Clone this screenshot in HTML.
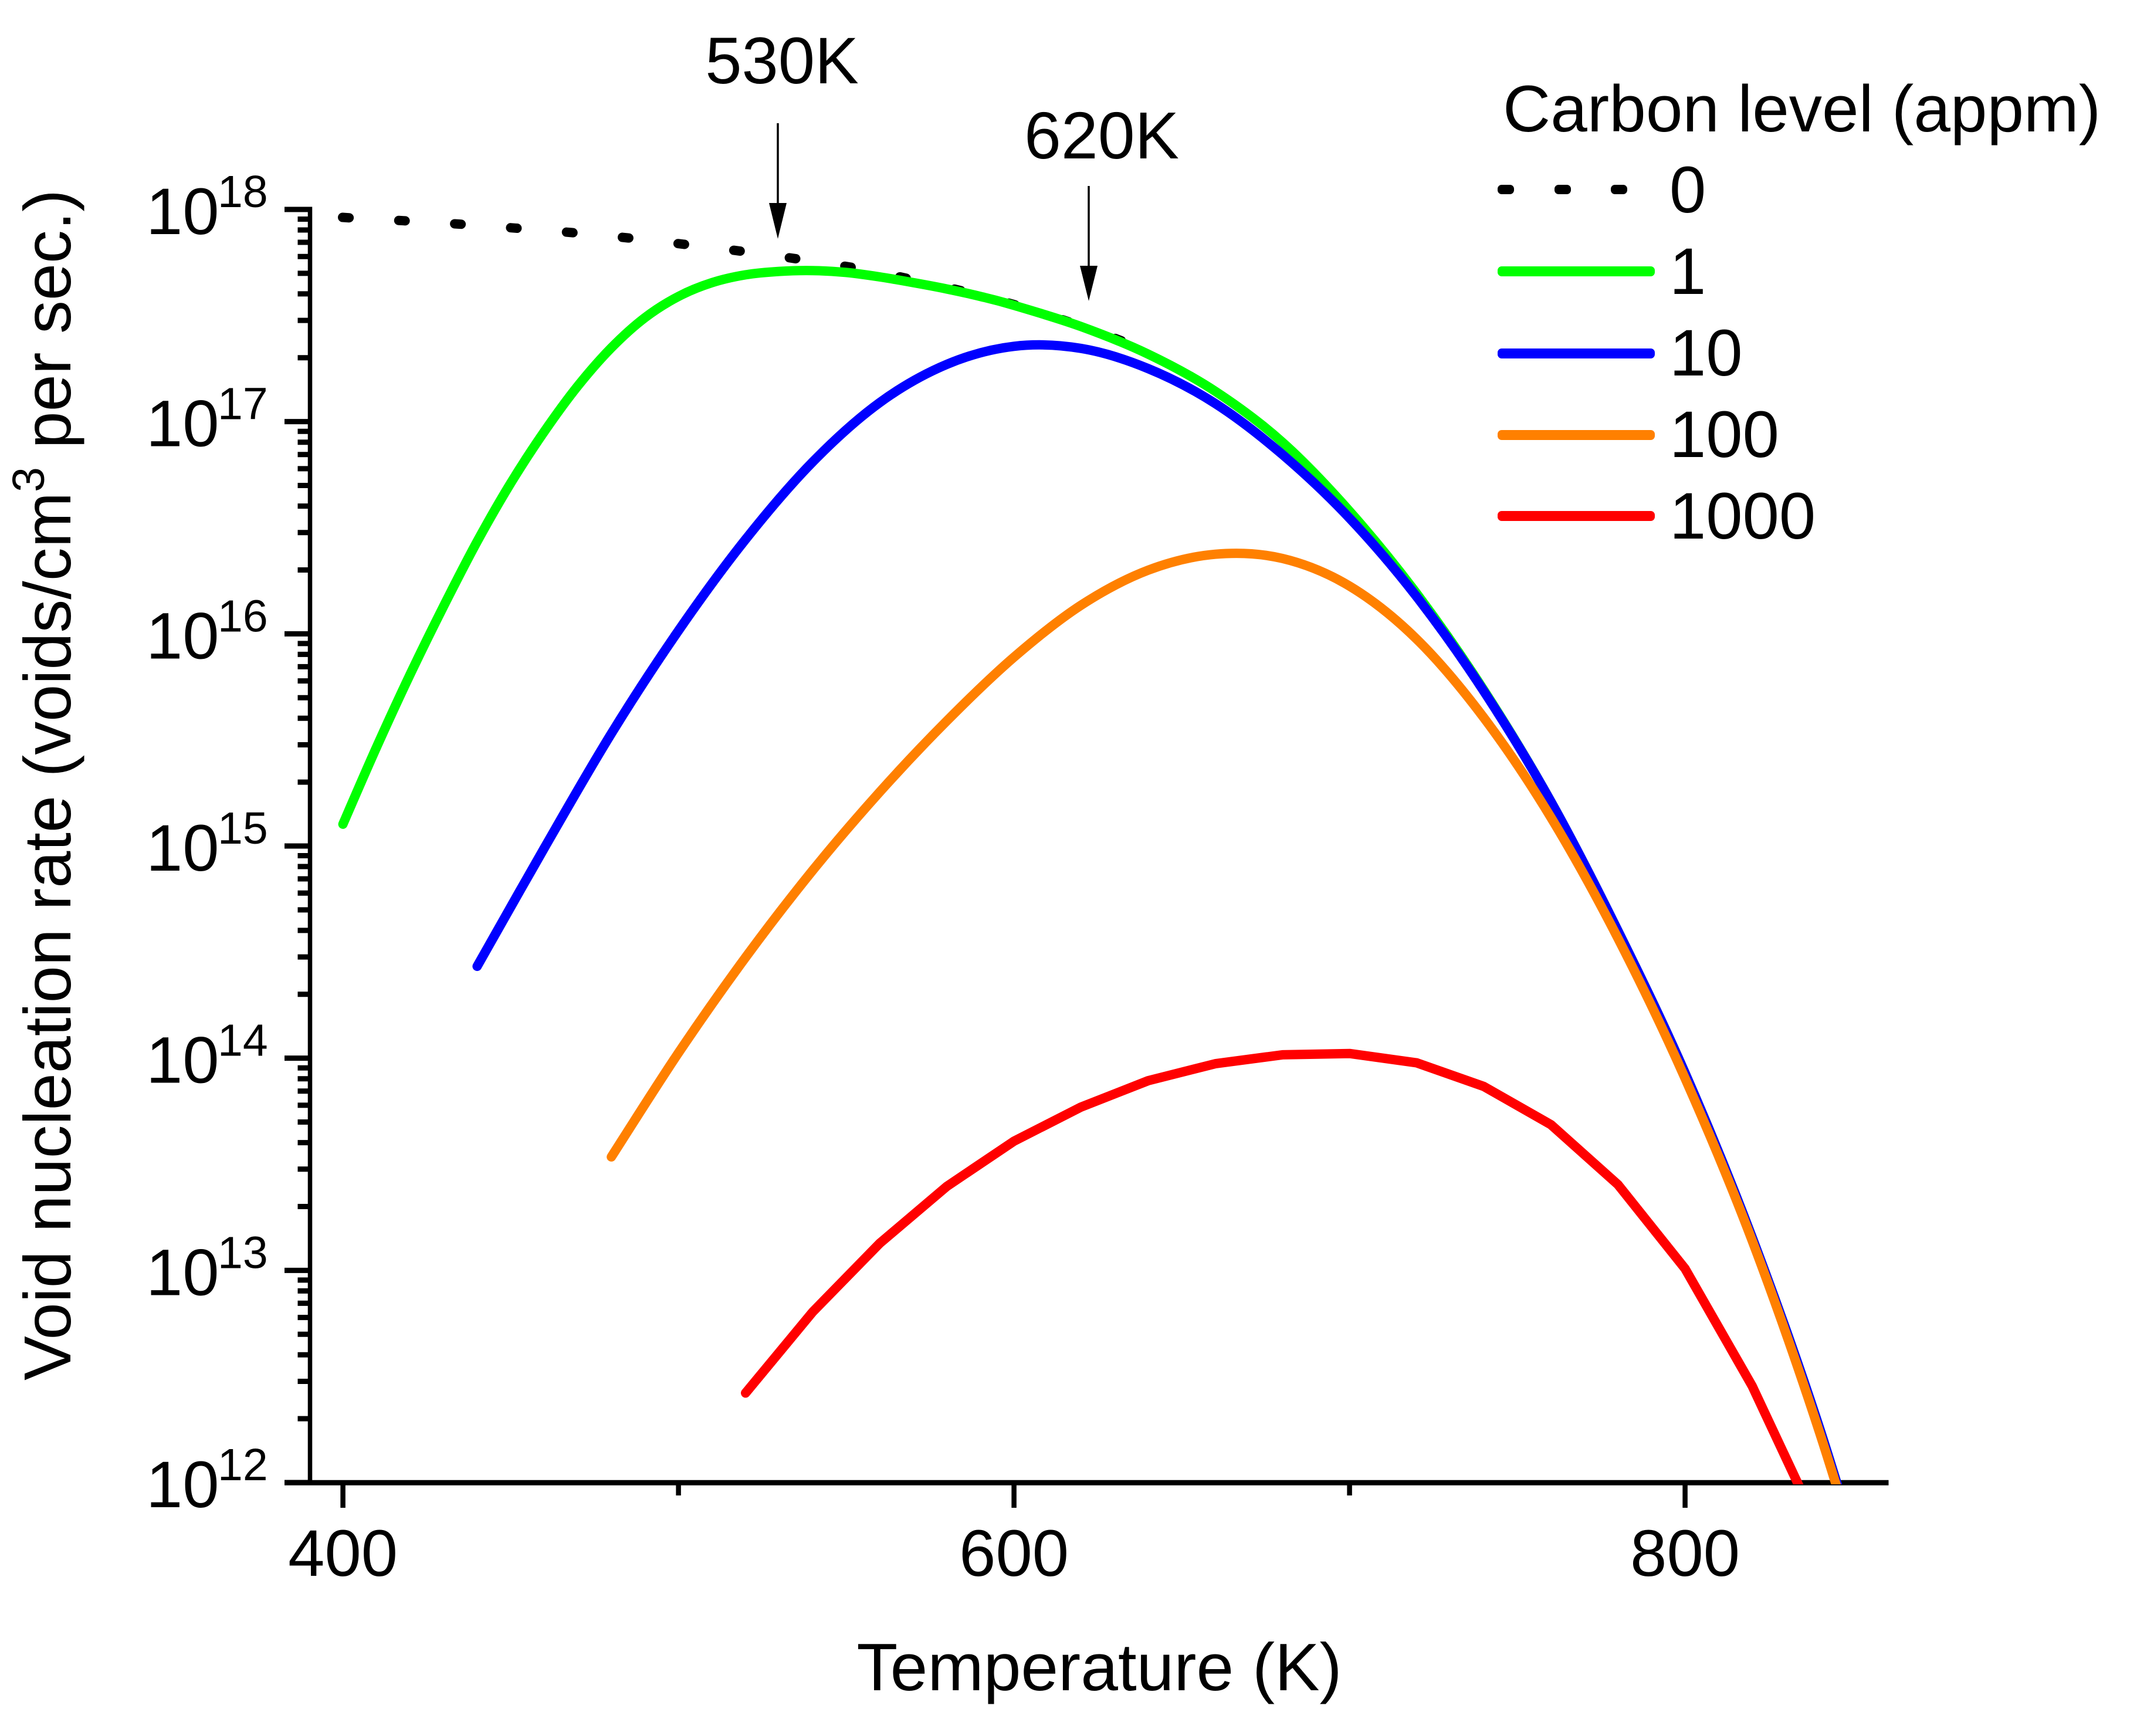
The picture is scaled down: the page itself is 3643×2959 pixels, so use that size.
<!DOCTYPE html>
<html lang="en">
<head>
<meta charset="utf-8">
<title>Void nucleation rate vs temperature</title>
<style>
html,body{margin:0;padding:0;background:#fff;}
svg{display:block;}
text{font-family:"Liberation Sans",Arial,sans-serif;fill:#000;}
</style>
</head>
<body>
<svg id="chart" xmlns="http://www.w3.org/2000/svg" width="3643" height="2959" viewBox="0 0 3643 2959">
  <rect x="0" y="0" width="3643" height="2959" fill="#fff"/>
  <defs><clipPath id="plot-clip"><rect x="0" y="0" width="3643" height="2530"/></clipPath></defs>

  <g id="axes"></g>
  <g id="series" clip-path="url(#plot-clip)"></g>

  <text x="1874" y="2881" font-size="114.5" text-anchor="middle">Temperature (K)</text>
  <text transform="translate(120,2353) rotate(-90)" x="0" y="0" font-size="113.5">Void nucleation rate (voids/cm<tspan font-size="77" dy="-45">3</tspan><tspan dy="45"> per sec.)</tspan></text>

  <text x="1333" y="142" font-size="112" text-anchor="middle">530K</text>
  <line x1="1326" y1="210" x2="1326" y2="350" stroke="#000" stroke-width="3.5"/>
  <polygon points="1311,346 1341,346 1326,407" fill="#000"/>
  <text x="1878" y="270" font-size="113" text-anchor="middle">620K</text>
  <line x1="1856" y1="317" x2="1856" y2="457" stroke="#000" stroke-width="3.5"/>
  <polygon points="1841,453 1871,453 1856,513" fill="#000"/>

  <g>
    <text x="2562" y="224" font-size="112.5">Carbon level (appm)</text>
    <g>
      <rect x="2553" y="315" width="28" height="16" rx="7" fill="#000"/>
      <rect x="2650" y="315" width="28" height="16" rx="7" fill="#000"/>
      <rect x="2746" y="315" width="28" height="16" rx="7" fill="#000"/>
      <text x="2846" y="362" font-size="112">0</text>
    </g>
    <g>
      <rect x="2553" y="454" width="268" height="17" rx="7" fill="#00ff00"/>
      <text x="2846" y="501" font-size="112">1</text>
    </g>
    <g>
      <rect x="2553" y="594" width="268" height="17" rx="7" fill="#0000ff"/>
      <text x="2846" y="640" font-size="112">10</text>
    </g>
    <g>
      <rect x="2553" y="733" width="268" height="17" rx="7" fill="#ff8000"/>
      <text x="2846" y="779" font-size="112">100</text>
    </g>
    <g>
      <rect x="2553" y="871" width="268" height="17" rx="7" fill="#ff0000"/>
      <text x="2846" y="918" font-size="112">1000</text>
    </g>
  </g>
</svg>
<script>
// Chart data. Rates are stored as log10(voids/cm3 per sec).
var xMajorTicks = [400, 600, 800];
var xMinorTicks = [500, 700];
var yDecades = [18, 17, 16, 15, 14, 13, 12];
var yMinorMultipliers = [2, 3, 4, 5, 6, 7, 8, 9];

var temps0 = [400, 401.5, 418, 434.7, 451.4, 468.1, 484.9, 501.5, 518.3, 534.9, 551.6, 567.9, 584, 599.9, 616, 631.2, 640];
var logRate0 = [17.963, 17.961, 17.947, 17.931, 17.912, 17.891, 17.866, 17.836, 17.804, 17.768, 17.727, 17.676, 17.618, 17.552, 17.472, 17.386, 17.325];

var temps1 = [400, 410, 420, 430, 440, 450, 460, 470, 480, 490, 500, 510, 520, 530, 540, 550, 560, 570, 580, 590, 600, 620, 640, 660, 680, 700, 720, 740, 760, 780, 800, 820, 840, 860];
var logRate1 = [15.103, 15.465, 15.808, 16.13, 16.435, 16.71, 16.953, 17.168, 17.348, 17.49, 17.59, 17.655, 17.692, 17.708, 17.712, 17.703, 17.682, 17.655, 17.625, 17.59, 17.548, 17.448, 17.318, 17.143, 16.903, 16.578, 16.19, 15.735, 15.21, 14.60, 13.93, 13.155, 12.26, 11.22];

var temps10 = [440, 460, 480, 500, 520, 540, 560, 580, 600, 620, 640, 660, 680, 700, 720, 740, 760, 780, 800, 820, 840, 860];
var logRate10 = [14.433, 14.99, 15.53, 16.015, 16.445, 16.81, 17.09, 17.27, 17.355, 17.345, 17.25, 17.085, 16.845, 16.545, 16.175, 15.73, 15.21, 14.60, 13.93, 13.155, 12.26, 11.22];

var temps100 = [480, 500, 520, 540, 560, 580, 600, 620, 640, 660, 680, 700, 720, 740, 760, 780, 800, 820, 840, 860];
var logRate100 = [13.535, 14.025, 14.475, 14.885, 15.255, 15.59, 15.89, 16.135, 16.30, 16.375, 16.355, 16.225, 15.975, 15.605, 15.135, 14.565, 13.905, 13.14, 12.24, 11.21];

var temps1000 = [520, 540, 560, 580, 600, 620, 640, 660, 680, 700, 720, 740, 760, 780, 800, 820, 840];
var logRate1000 = [12.422, 12.804, 13.128, 13.396, 13.609, 13.770, 13.894, 13.974, 14.016, 14.022, 13.978, 13.867, 13.687, 13.404, 13.008, 12.455, 11.780];

var NS = 'http://www.w3.org/2000/svg';
function xScale(t) { return 584.6 + (t - 400) * 5.72; }
function yScale(e) { return 357 + (18 - e) * 361.67; }

var axes = document.getElementById('axes');
var seriesGroup = document.getElementById('series');

function line(parent, x1, y1, x2, y2, w, name) {
  var el = document.createElementNS(NS, 'line');
  el.setAttribute('x1', x1);
  el.setAttribute('y1', y1);
  el.setAttribute('x2', x2);
  el.setAttribute('y2', y2);
  el.setAttribute('stroke', '#000');
  el.setAttribute('stroke-width', w);
  
  
  parent.appendChild(el);
  return el;
}
function label(parent, x, y, size, anchor, str, name) {
  var el = document.createElementNS(NS, 'text');
  el.setAttribute('x', x);
  el.setAttribute('y', y);
  el.setAttribute('font-size', size);
  el.setAttribute('text-anchor', anchor);
  el.textContent = str;
  
  
  parent.appendChild(el);
  return el;
}

// Axis lines
line(axes, 485, 2527.3, 3219.5, 2527.3, 9, 'x-axis-line');
line(axes, 528.5, 352.5, 528.5, 2531, 7.5, 'y-axis-line');

// X ticks
xMajorTicks.forEach(function (t) {
  line(axes, xScale(t), 2527, xScale(t), 2570, 8.5, 'x-major-tick');
  label(axes, xScale(t), 2686, 112, 'middle', String(t), 'x-tick-label');
});
xMinorTicks.forEach(function (t) {
  line(axes, xScale(t), 2527, xScale(t), 2549, 8.5, 'x-minor-tick');
});

// Y ticks
yDecades.forEach(function (d) {
  var y = yScale(d);
  line(axes, 485, y, 528, y, 9, 'y-major-tick');
  label(axes, 249, y + 42, 112, 'start', '10', 'y-tick-label-base');
  label(axes, 371, y - 4, 77, 'start', String(d), 'y-tick-label-exponent');
  if (d > 12) {
    yMinorMultipliers.forEach(function (m) {
      var ym = yScale(d - 1 + Math.log10(m));
      line(axes, 507.5, ym, 528, ym, 9, 'y-minor-tick');
    });
  }
});

// Catmull-Rom path through scaled data points
function smoothPath(ts, es) {
  var p = ts.map(function (t, i) { return [xScale(t), yScale(es[i])]; });
  var d = 'M' + p[0][0].toFixed(1) + ' ' + p[0][1].toFixed(1);
  for (var i = 0; i < p.length - 1; i++) {
    var p0 = p[Math.max(0, i - 1)], p1 = p[i], p2 = p[i + 1], p3 = p[Math.min(p.length - 1, i + 2)];
    var c1x = p1[0] + (p2[0] - p0[0]) / 6, c1y = p1[1] + (p2[1] - p0[1]) / 6;
    var c2x = p2[0] - (p3[0] - p1[0]) / 6, c2y = p2[1] - (p3[1] - p1[1]) / 6;
    d += ' C' + c1x.toFixed(1) + ' ' + c1y.toFixed(1) + ' ' + c2x.toFixed(1) + ' ' + c2y.toFixed(1) + ' ' + p2[0].toFixed(1) + ' ' + p2[1].toFixed(1);
  }
  return d;
}
function polyPath(ts, es) {
  return ts.map(function (t, i) {
    return (i ? 'L' : 'M') + xScale(t).toFixed(1) + ' ' + yScale(es[i]).toFixed(1);
  }).join(' ');
}
function drawCurve(d, color, name) {
  var el = document.createElementNS(NS, 'path');
  el.setAttribute('d', d);
  el.setAttribute('fill', 'none');
  el.setAttribute('stroke', color);
  el.setAttribute('stroke-width', '16');
  el.setAttribute('stroke-linecap', 'round');
  el.setAttribute('stroke-linejoin', 'round');
  
  
  seriesGroup.appendChild(el);
  return el;
}

var dotted = drawCurve(smoothPath(temps0, logRate0), '#000000', 'curve-carbon-0');
dotted.setAttribute('stroke-dasharray', '11 84.6');
dotted.setAttribute('stroke-dashoffset', '-3');
drawCurve(smoothPath(temps1, logRate1), '#00ff00', 'curve-carbon-1');
drawCurve(smoothPath(temps10, logRate10), '#0000ff', 'curve-carbon-10');
drawCurve(smoothPath(temps100, logRate100), '#ff8000', 'curve-carbon-100');
drawCurve(polyPath(temps1000, logRate1000), '#ff0000', 'curve-carbon-1000');
</script>
</body>
</html>
